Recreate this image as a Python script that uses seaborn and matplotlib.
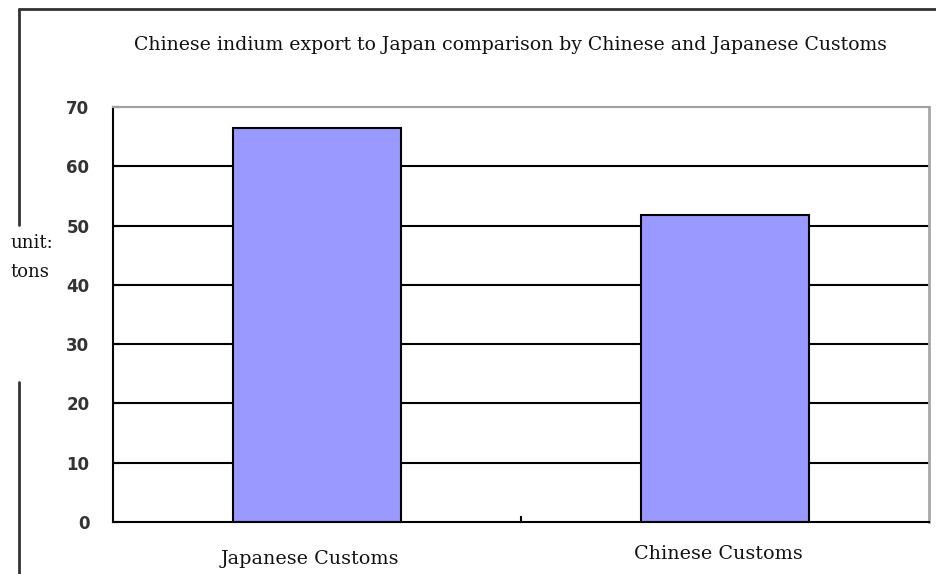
import matplotlib
matplotlib.use("Agg")
import matplotlib.pyplot as plt
import matplotlib.transforms as mtransforms
from matplotlib.lines import Line2D
import seaborn as sns
import pandas as pd

# Export volumes reported by each customs office (tons)
sources = ["Japanese Customs", "Chinese Customs"]
tons = [66.5, 51.8]
y_ticks = [0, 10, 20, 30, 40, 50, 60, 70]

title = "Chinese indium export to Japan comparison by Chinese and Japanese Customs"

sns.set_theme(style="white")
plt.rcParams["font.family"] = ["DejaVu Serif"]

df = pd.DataFrame({"source": sources, "tons": tons})

fig = plt.figure(figsize=(9.37, 5.74), dpi=100)
fig.patch.set_facecolor("white")
ax = fig.add_axes([113 / 937, 1 - 522 / 574, (929 - 113) / 937, (522 - 107) / 574])

sns.barplot(data=df, x="source", y="tons", ax=ax, color="#9999ff",
            width=0.41, edgecolor="black", linewidth=1.5, saturation=1)

ax.set_ylim(0, 70)
ax.set_xlim(-0.5, 1.5)
ax.set_yticks(y_ticks)
ax.set_yticklabels([str(v) for v in y_ticks], family="DejaVu Sans",
                   fontweight="bold", fontsize=12, color="#333333")
ax.set_xlabel("")
ax.set_ylabel("")

# Horizontal gridlines behind the bars
for v in y_ticks[1:-1]:
    ax.axhline(v, color="black", linewidth=1.5, zorder=0)

ax.tick_params(axis="y", direction="in", length=5, width=1.5, color="black",
               pad=17, left=True)
ax.set_xticks([0.5], minor=True)
ax.tick_params(axis="x", which="minor", direction="in", length=4, width=1.5,
               color="black", bottom=True)
ax.tick_params(axis="x", which="major", length=0, pad=17)

for lbl, dy in zip(ax.get_xticklabels(), [-4, 1]):
    lbl.set_fontsize(13.8)
    lbl.set_color("#111111")
    lbl.set_transform(lbl.get_transform() +
                      mtransforms.ScaledTranslation(-7 / 100, dy / 100, fig.dpi_scale_trans))

for side in ["left", "bottom"]:
    ax.spines[side].set_color("black")
    ax.spines[side].set_linewidth(1.5)
ax.spines["top"].set_color("#a0a0a0")
ax.spines["top"].set_linewidth(1.5)
ax.spines["right"].set_color("#a8a8a8")
ax.spines["right"].set_linewidth(2)

fig.text(510 / 937, 1 - 45 / 574, title, ha="center", va="center",
         fontsize=13.6, color="#111111")

fig.text(10 / 937, 1 - 243 / 574, "unit:", ha="left", va="center",
         fontsize=13, color="#111111")
fig.text(10 / 937, 1 - 272 / 574, "tons", ha="left", va="center",
         fontsize=13, color="#111111")

# Outer chart frame: top edge and a left edge broken around the unit label
frame_kw = dict(color="#333333", linewidth=2, transform=fig.transFigure)
fig.add_artist(Line2D([19 / 937, 1.0], [1 - 9 / 574, 1 - 9 / 574], **frame_kw))
fig.add_artist(Line2D([19 / 937, 19 / 937], [1 - 9 / 574, 1 - 225 / 574], **frame_kw))
fig.add_artist(Line2D([19 / 937, 19 / 937], [1 - 382 / 574, 0.0], **frame_kw))

fig.savefig("out.png", dpi=100, facecolor="white")
